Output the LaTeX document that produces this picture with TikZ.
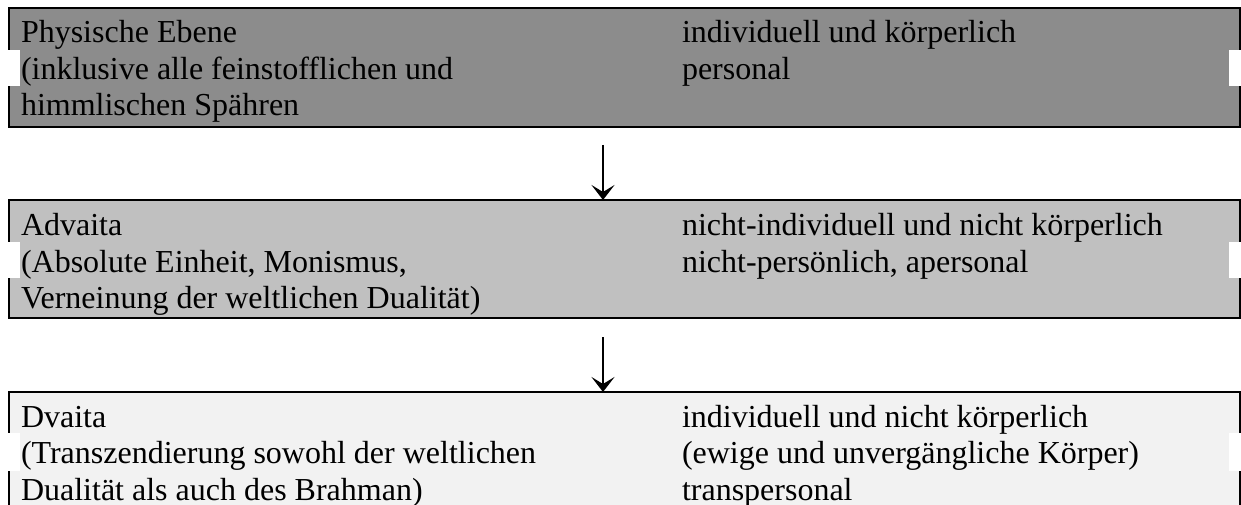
\documentclass[tikz,border=0pt]{standalone}
\usepackage{fontspec}
\setmainfont{Liberation Serif}
\usetikzlibrary{arrows.meta}
\definecolor{gA}{RGB}{140,140,140}
\definecolor{gB}{RGB}{192,192,192}
\definecolor{gC}{RGB}{242,242,242}
\tikzset{
  levelbox/.style={draw=black, line width=2pt, minimum width=1231pt, inner sep=0pt, outer sep=0pt},
  txt/.style={anchor=base west, inner sep=0pt, outer sep=0pt, align=left, font=\fontsize{32}{36.5}\selectfont},
  arr/.style={line width=2pt, -{Stealth[length=15pt, width=23pt, inset=7pt]}},
  gap/.style={fill=white, draw=none}
}
\begin{document}
\begin{tikzpicture}[x=1pt,y=1pt]
\useasboundingbox (0,0) rectangle (1241,504);
% boxes
\node[levelbox, fill=gA, minimum height=119pt] (b1) at (624.5,436.5) {};
\node[levelbox, fill=gB, minimum height=118pt] (b2) at (624.5,245) {};
\node[levelbox, fill=gC, minimum height=138pt] (b3) at (624.5,43) {};
% white marks
\fill[gap] (8,418) rectangle (20,454);
\fill[gap] (1229,418) rectangle (1242,454);
\fill[gap] (8,226) rectangle (20,262);
\fill[gap] (1229,226) rectangle (1242,262);
\fill[gap] (8,33) rectangle (20,71);
\fill[gap] (1229,33) rectangle (1242,71);
% texts (anchor = baseline of last line)
\node[txt] (t1l) at (21,388) {Physische Ebene\\(inklusive alle feinstofflichen und\\himmlischen Spähren};
\node[txt] (t1r) at (682,424.5) {individuell und körperlich\\personal};
\node[txt] (t2l) at (21,195.5) {Advaita\\(Absolute Einheit, Monismus,\\Verneinung der weltlichen Dualität)};
\node[txt] (t2r) at (682,232) {nicht-individuell und nicht körperlich\\nicht-persönlich, apersonal};
\node[txt] (t3l) at (21,4) {Dvaita\\(Transzendierung sowohl der weltlichen\\Dualität als auch des Brahman)};
\node[txt] (t3r) at (682,4) {individuell und nicht körperlich\\(ewige und unvergängliche Körper)\\transpersonal};
% arrows
\coordinate (a1) at (603,359);
\coordinate (a2) at (603,167);
\draw[arr] (a1) -- (a1 |- b2.north);
\draw[arr] (a2) -- (a2 |- b3.north);
\end{tikzpicture}
\end{document}
